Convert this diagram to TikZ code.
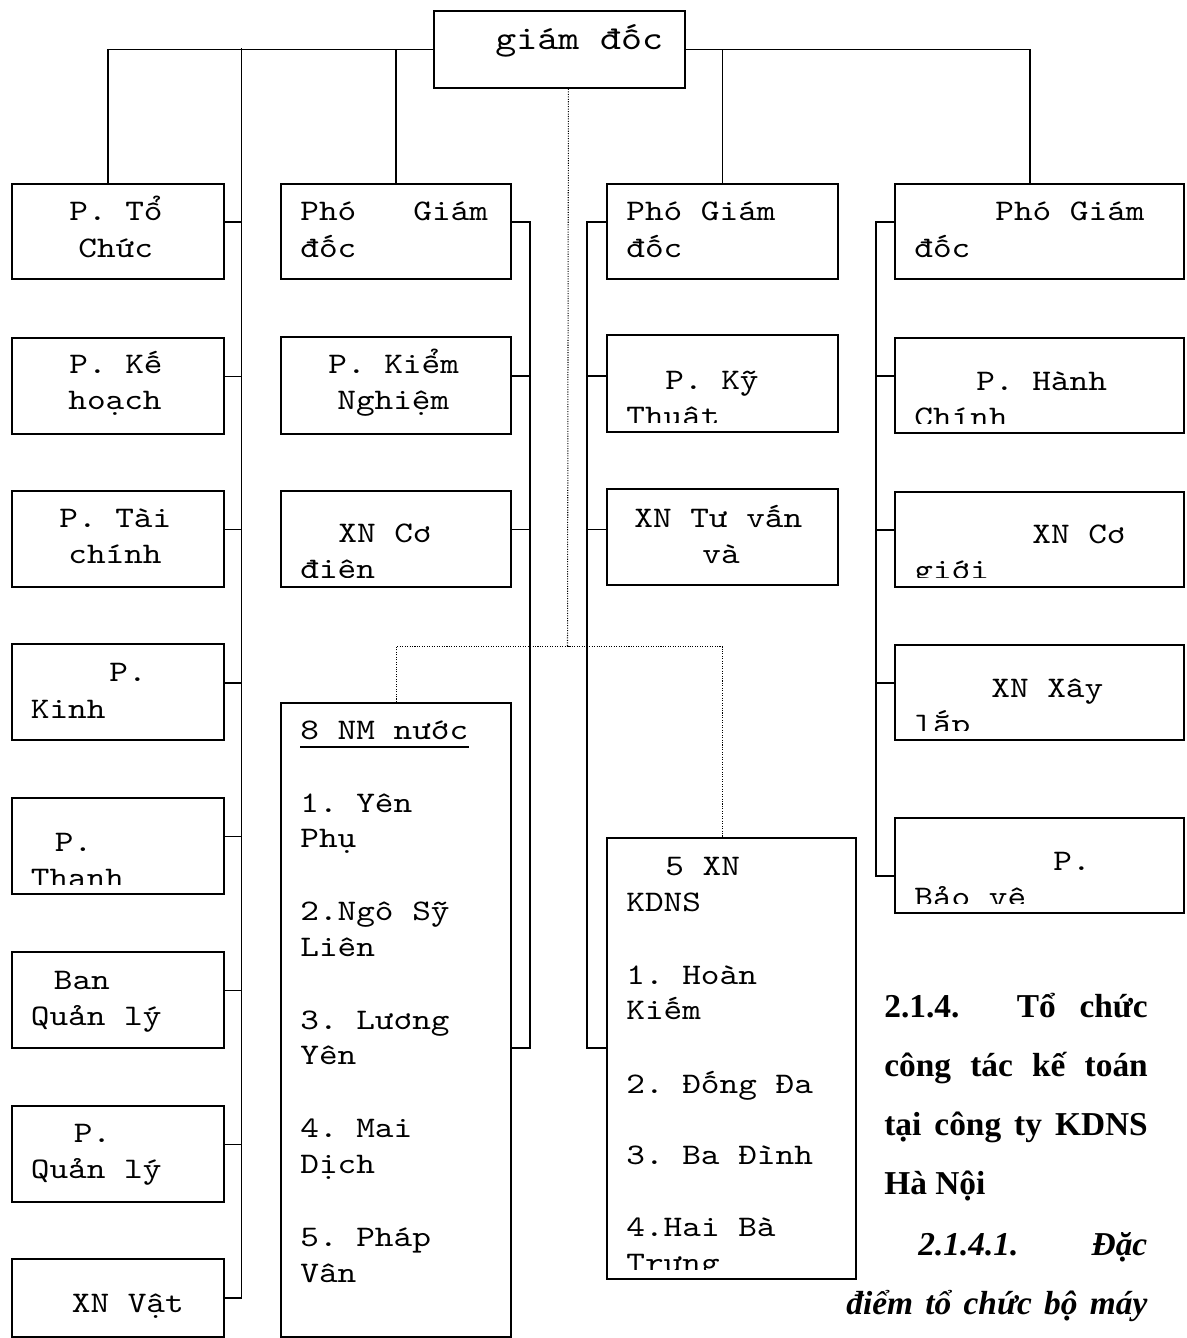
\documentclass[tikz,border=0pt]{standalone}
\usepackage{fontspec}
\setmainfont{Liberation Serif}
\setmonofont{lmmono10-regular}[Extension=.otf, FakeStretch=1.19]
\tikzset{
  orgbox/.style={draw, line width=1.1pt, inner sep=0pt, anchor=north west},
  link/.style={line width=1pt},
  dots/.style={line width=0.6pt, dash pattern=on 0.6pt off 0.8pt},
  txt/.style={font=\ttfamily\fontsize{17}{21}\selectfont, anchor=base west, inner sep=0pt},
  bigtxt/.style={txt, font=\ttfamily\fontsize{19.1}{24}\selectfont},
  head/.style={font=\bfseries\fontsize{19}{22}\selectfont, anchor=base west, inner sep=0pt},
  headit/.style={head, font=\bfseries\itshape\fontsize{19}{22}\selectfont},
}
\begin{document}
\begin{tikzpicture}[x=0.02cm,y=-0.02cm]
\useasboundingbox (0,0) rectangle (1186,1338);

% director
\node[orgbox, minimum width=5.02cm, minimum height=1.54cm] (director) at (433,10) {};
\node[bigtxt] (directorlbl) at (495,50) {giám đốc};

% left column
\node[orgbox, minimum width=4.24cm, minimum height=1.9cm] (tochuc) at (11,183) {};
\node[orgbox, minimum width=4.24cm, minimum height=1.92cm] (kehoach) at (11,337) {};
\node[orgbox, minimum width=4.24cm, minimum height=1.92cm] (taichinh) at (11,490) {};
\node[orgbox, minimum width=4.24cm, minimum height=1.93cm] (kinh) at (11,643) {};
\node[orgbox, minimum width=4.24cm, minimum height=1.92cm] (thanh) at (11,797) {};
\node[orgbox, minimum width=4.24cm, minimum height=1.92cm] (banql) at (11,951) {};
\node[orgbox, minimum width=4.24cm, minimum height=1.92cm] (phongql) at (11,1105) {};
\node[orgbox, minimum width=4.24cm, minimum height=1.56cm] (vattu) at (11,1258) {};

\node[txt] (tochuc1) at (69,220) {P. Tổ};
\node[txt] (tochuc2) at (78,257) {Chức};
\node[txt] (kehoach1) at (69,373) {P. Kế};
\node[txt] (kehoach2) at (68,409) {hoạch};
\node[txt] (taichinh1) at (59,527) {P. Tài};
\node[txt] (taichinh2) at (68,563) {chính};
\node[txt] (kinh1) at (109,681) {P.};
\node[txt] (kinh2) at (30.5,718) {Kinh};
\begin{scope}
  \clip (thanh.north west) rectangle ([yshift=0.21cm]thanh.south east);
  \node[txt] (thanh1) at (54.6,851) {P.};
  \node[txt] (thanh2) at (30.5,887) {Thanh};
\end{scope}
\node[txt] (banql1) at (53.5,989) {Ban};
\node[txt] (banql2) at (30.5,1025.5) {Quản lý};
\node[txt] (phongql1) at (73.4,1142) {P.};
\node[txt] (phongql2) at (30.5,1178) {Quản lý};
\node[txt] (vattu1) at (71.5,1312) {XN Vật};

% second column
\node[orgbox, minimum width=4.61cm, minimum height=1.9cm] (pgda) at (280,183) {};
\node[orgbox, minimum width=4.61cm, minimum height=1.94cm] (kiemnghiem) at (280,336) {};
\node[orgbox, minimum width=4.61cm, minimum height=1.92cm] (codien) at (280,490) {};
\node[orgbox, minimum width=4.61cm, minimum height=12.68cm] (nhamay) at (280,702) {};

\node[txt] (pgda1) at (300,220) {Phó};
\node[txt] (pgda2) at (413,220) {Giám};
\node[txt] (pgda3) at (300,257) {đốc};
\node[txt] (kiemnghiem1) at (328,373) {P. Kiểm};
\node[txt] (kiemnghiem2) at (337,409) {Nghiệm};
\begin{scope}
  \clip (codien.north west) rectangle ([yshift=0.21cm]codien.south east);
  \node[txt] (codien1) at (338,542) {XN Cơ};
  \node[txt] (codien2) at (300,578) {điện};
\end{scope}
\node[txt] (nhamay0) at (300,739.5) {8 NM nước};
\draw[line width=0.9pt] ([yshift=-0.146cm]nhamay0.base west) -- ([yshift=-0.146cm]nhamay0.base east);
\node[txt] (nhamay1) at (300,812) {1. Yên};
\node[txt] (nhamay2) at (300,847) {Phụ};
\node[txt] (nhamay3) at (300,920.5) {2.Ngô Sỹ};
\node[txt] (nhamay4) at (300,956) {Liên};
\node[txt] (nhamay5) at (300,1029) {3. Lương};
\node[txt] (nhamay6) at (300,1064) {Yên};
\node[txt] (nhamay7) at (300,1137) {4. Mai};
\node[txt] (nhamay8) at (300,1173) {Dịch};
\node[txt] (nhamay9) at (300,1246) {5. Pháp};
\node[txt] (nhamay10) at (300,1282) {Vân};

% third column
\node[orgbox, minimum width=4.62cm, minimum height=1.9cm] (pgdb) at (606,183) {};
\node[orgbox, minimum width=4.62cm, minimum height=1.94cm] (kythuat) at (606,334) {};
\node[orgbox, minimum width=4.62cm, minimum height=1.92cm] (tuvan) at (606,488) {};
\node[orgbox, minimum width=4.99cm, minimum height=8.83cm] (kdns) at (606,837) {};

\node[txt] (pgdb1) at (626,220) {Phó Giám};
\node[txt] (pgdb2) at (626,257) {đốc};
\begin{scope}
  \clip (kythuat.north west) rectangle ([yshift=0.21cm]kythuat.south east);
  \node[txt] (kythuat1) at (665,389) {P. Kỹ};
  \node[txt] (kythuat2) at (626,425) {Thuật};
\end{scope}
\node[txt] (tuvan1) at (634,527) {XN Tư vấn};
\node[txt] (tuvan2) at (702,563) {và};
\begin{scope}
  \clip (kdns.north west) rectangle ([yshift=0.22cm]kdns.south east);
  \node[txt] (kdns1) at (665,875) {5 XN};
  \node[txt] (kdns2) at (626,911) {KDNS};
  \node[txt] (kdns3) at (626,984) {1. Hoàn};
  \node[txt] (kdns4) at (626,1019) {Kiếm};
  \node[txt] (kdns5) at (626,1093) {2. Đống Đa};
  \node[txt] (kdns6) at (626,1164) {3. Ba Đình};
  \node[txt] (kdns7) at (626,1236) {4.Hai Bà};
  \node[txt] (kdns8) at (626,1272) {Trưng};
\end{scope}

% fourth column
\node[orgbox, minimum width=5.78cm, minimum height=1.9cm] (pgdc) at (894,183) {};
\node[orgbox, minimum width=5.78cm, minimum height=1.9cm] (hanhchinh) at (894,337) {};
\node[orgbox, minimum width=5.78cm, minimum height=1.9cm] (cogioi) at (894,491) {};
\node[orgbox, minimum width=5.78cm, minimum height=1.91cm] (xaylap) at (894,644) {};
\node[orgbox, minimum width=5.78cm, minimum height=1.9cm] (baove) at (894,817) {};

\node[txt] (pgdc1) at (995,220) {Phó Giám};
\node[txt] (pgdc2) at (914,257) {đốc};
\begin{scope}
  \clip (hanhchinh.north west) rectangle ([yshift=0.21cm]hanhchinh.south east);
  \node[txt] (hanhchinh1) at (976,390) {P. Hành};
  \node[txt] (hanhchinh2) at (914,426) {Chính};
\end{scope}
\begin{scope}
  \clip (cogioi.north west) rectangle ([yshift=0.21cm]cogioi.south east);
  \node[txt] (cogioi1) at (1032,543) {XN Cơ};
  \node[txt] (cogioi2) at (914,579) {giới};
\end{scope}
\begin{scope}
  \clip (xaylap.north west) rectangle ([yshift=0.21cm]xaylap.south east);
  \node[txt] (xaylap1) at (991,697) {XN Xây};
  \node[txt] (xaylap2) at (914,733) {lắp};
\end{scope}
\begin{scope}
  \clip (baove.north west) rectangle ([yshift=0.21cm]baove.south east);
  \node[txt] (baove1) at (1053,870) {P.};
  \node[txt] (baove2) at (914,906) {Bảo vệ};
\end{scope}

% connectors
\coordinate (spineL) at (241.5,48.5);
\coordinate (spineB) at (530,0);
\coordinate (spineC) at (587,0);
\coordinate (spineD) at (876,0);
\draw[link] (director.west) -| ([xshift=-0.2cm]tochuc.north);
\draw[link] (director.east) -| ([xshift=-0.194cm]pgdc.north);
\draw[link] (pgda.north) |- (director.west);
\draw[link] (pgdb.north) |- (director.east);
\draw[link] (spineL) |- (vattu.east);
\foreach \b in {tochuc,kehoach,taichinh,kinh,thanh,banql,phongql}
  \draw[link] ([yshift=0.19cm]\b.east) -- ([yshift=0.19cm]\b.east -| spineL);
\draw[link] ([yshift=0.19cm]pgda.east) -| ([yshift=-0.56cm]nhamay.east -| spineB) -- ([yshift=-0.56cm]nhamay.east);
\foreach \b in {kiemnghiem,codien}
  \draw[link] ([yshift=0.19cm]\b.east) -- ([yshift=0.19cm]\b.east -| spineB);
\draw[link] ([yshift=0.19cm]pgdb.west) -| ([yshift=0.215cm]kdns.west -| spineC) -- ([yshift=0.215cm]kdns.west);
\foreach \b in {kythuat,tuvan}
  \draw[link] ([yshift=0.15cm]\b.west) -- ([yshift=0.15cm]\b.west -| spineC);
\draw[link] ([yshift=0.19cm]pgdc.west) -| ([yshift=-0.21cm]baove.west -| spineD) -- ([yshift=-0.21cm]baove.west);
\foreach \b in {hanhchinh,cogioi,xaylap}
  \draw[link] ([yshift=0.19cm]\b.west) -- ([yshift=0.19cm]\b.west -| spineD);

% dotted links to the plants
\coordinate (dotjoin) at (567.5,646.5);
\draw[dots] ([xshift=0.18cm]director.south) -- (dotjoin);
\draw[dots] (nhamay.north) |- (dotjoin) -| ([xshift=-0.186cm]kdns.north);

% heading text
\node[head] (head1) at (884,1017) {\makebox[5.27cm][s]{2.1.4. Tổ chức}};
\node[head] (head2) at (884,1076) {\makebox[5.27cm][s]{công tác kế toán}};
\node[head] (head3) at (884,1135) {\makebox[5.27cm][s]{tại công ty KDNS}};
\node[head] (head4) at (884,1194) {Hà Nội};
\node[headit] (head5) at (918,1255) {\makebox[4.58cm][s]{2.1.4.1. Đặc}};
\node[headit] (head6) at (846,1314) {\makebox[6.02cm][s]{điểm tổ chức bộ máy}};
\end{tikzpicture}
\end{document}
